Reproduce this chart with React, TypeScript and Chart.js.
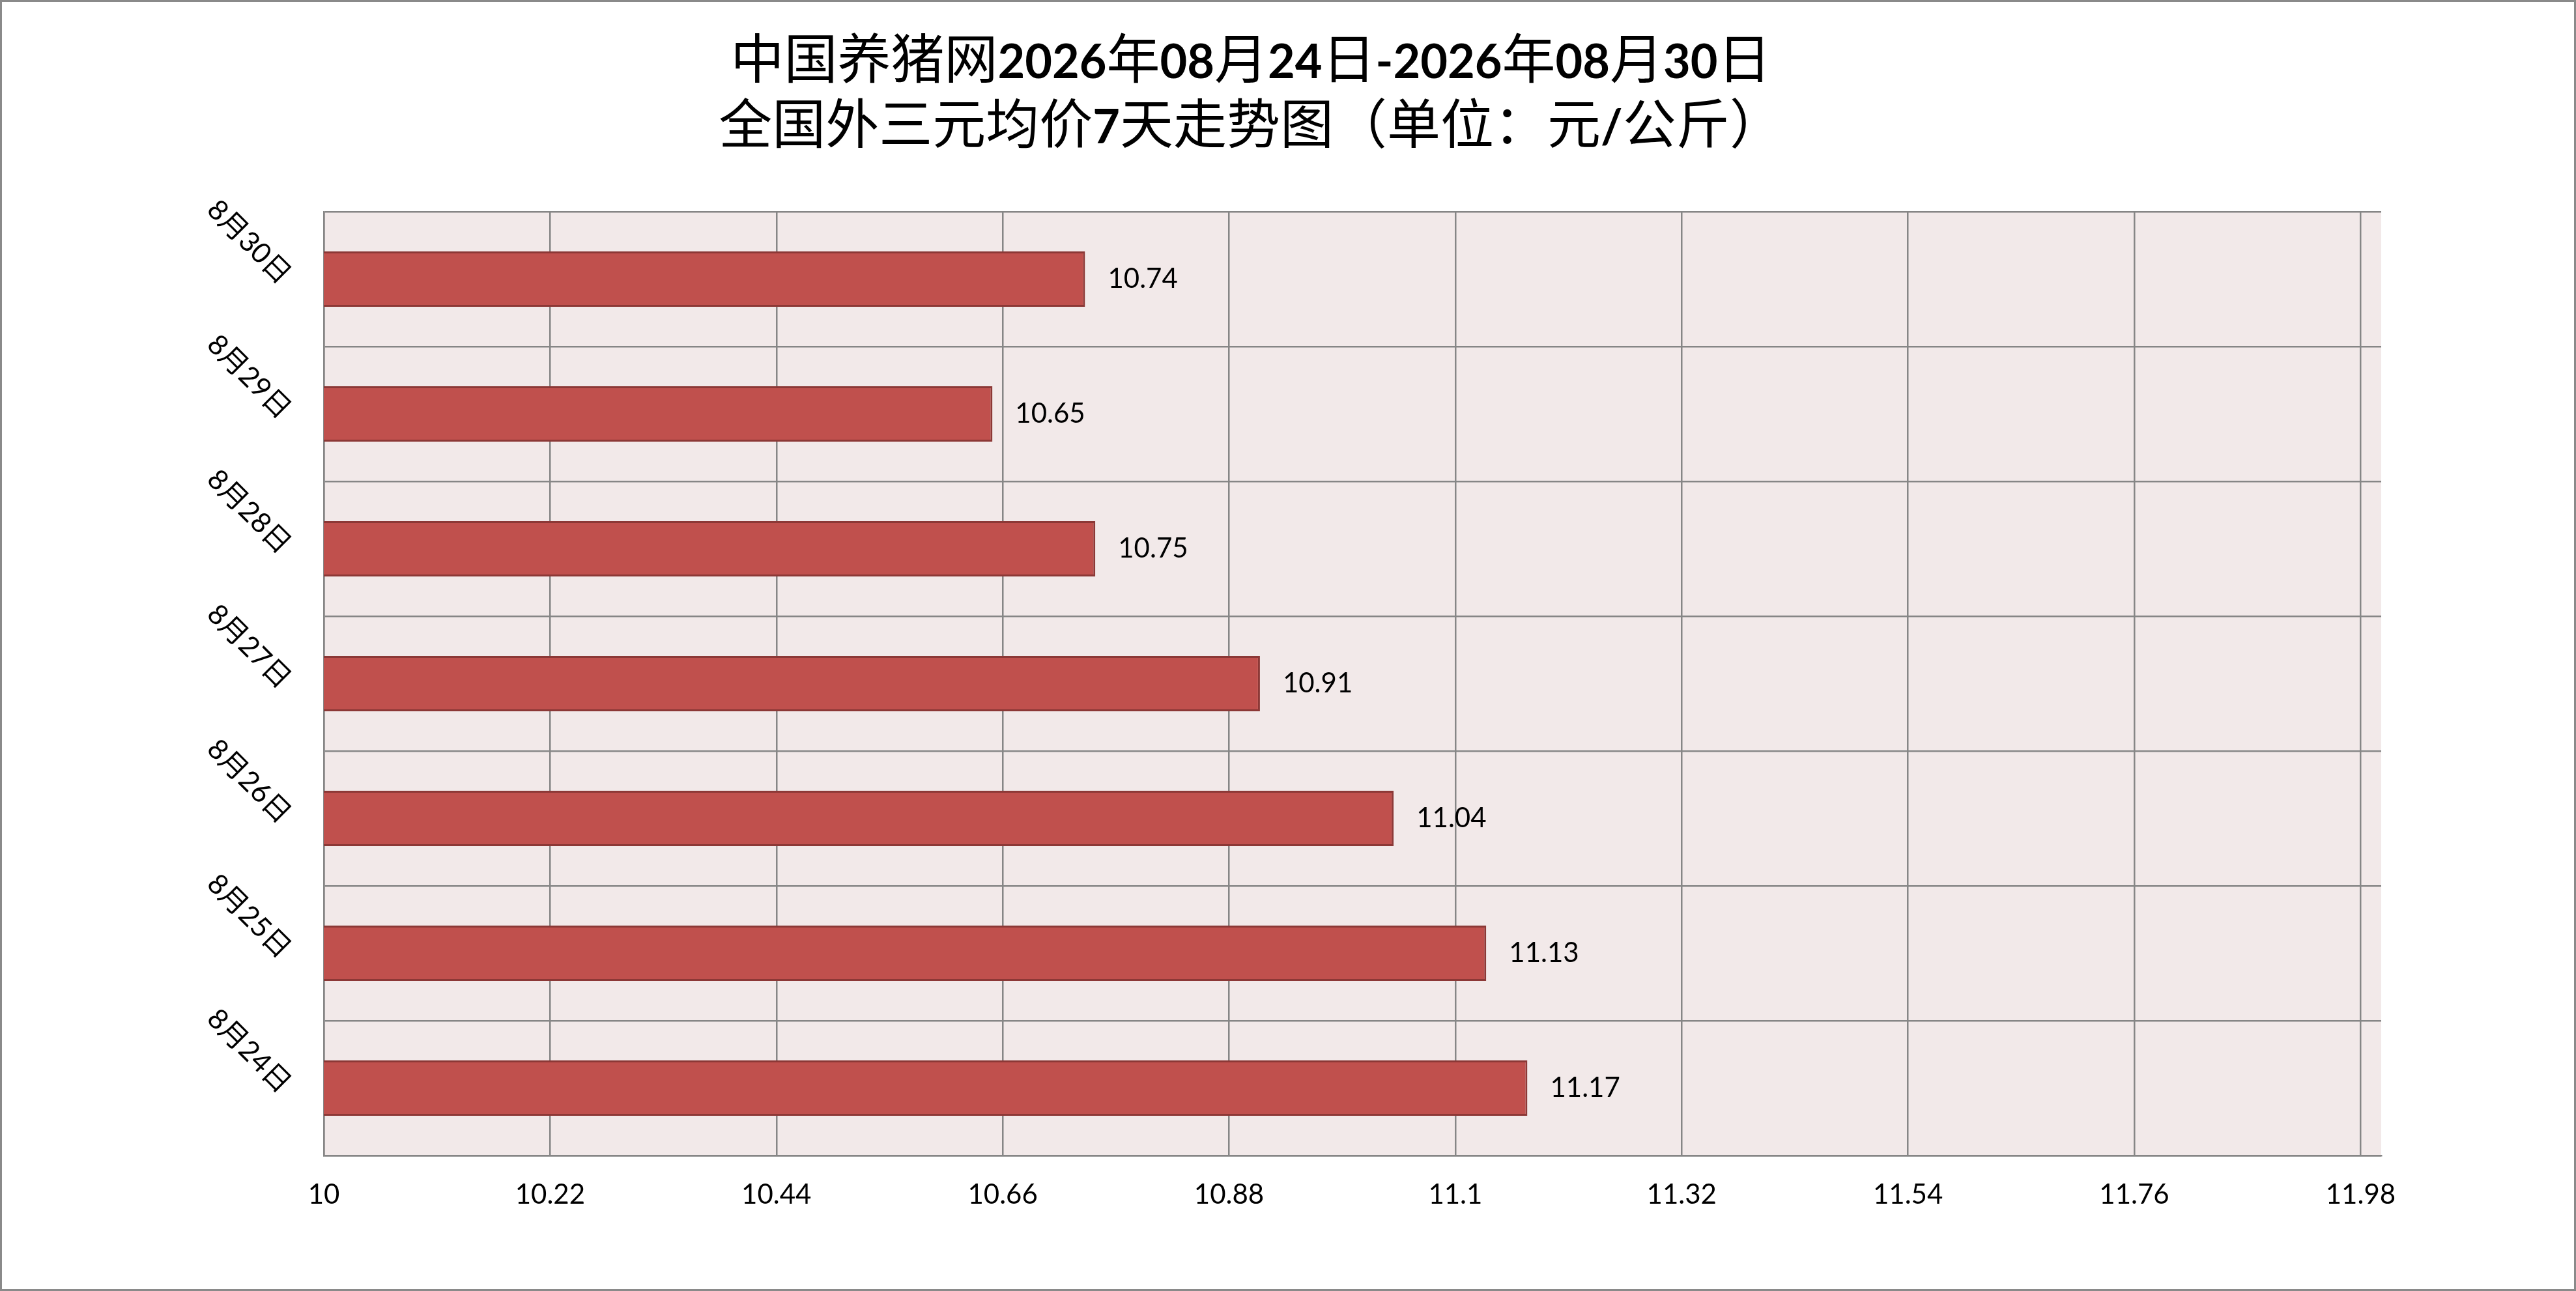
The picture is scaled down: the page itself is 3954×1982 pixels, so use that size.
import { useEffect, useRef } from 'react'
import { Chart, registerables, Plugin } from 'chart.js'

Chart.register(...registerables)

// ─── data ────────────────────────────────────────────────────────────────────
const DATES = ['8月24日', '8月25日', '8月26日', '8月27日', '8月28日', '8月29日', '8月30日']
const PRICES = [11.17, 11.13, 11.04, 10.91, 10.75, 10.65, 10.74]
const X_TICKS = [10, 10.22, 10.44, 10.66, 10.88, 11.1, 11.32, 11.54, 11.76, 11.98]
const TITLE_LINES = ['中国养猪网2026年08月24日-2026年08月30日', '全国外三元均价7天走势图（单位：元/公斤）']

const W = 3954
const H = 1982
const GRID = '#868686'
const PLOT_BG = '#F2E9E9'
const TEXT_FONT = '"Lato", "Noto Sans CJK SC", sans-serif'
const CJK = /[\u3000-\u9fff\uff00-\uffef]/

// white page, pink plot area, grey frame round the whole picture
const backdrop: Plugin<'bar'> = {
  id: 'backdrop',
  beforeDraw(chart) {
    const { ctx, chartArea: a } = chart
    ctx.save()
    ctx.fillStyle = '#fff'
    ctx.fillRect(0, 0, W, H)
    ctx.fillStyle = PLOT_BG
    ctx.fillRect(a.left, a.top, a.right - a.left, a.bottom - a.top)
    ctx.strokeStyle = '#8a8a8a'
    ctx.lineWidth = 3
    ctx.strokeRect(1.5, 1.5, W - 3, H - 3)
    ctx.restore()
  },
}

// title: Chinese in regular weight, digits/latin in bold (as the Excel original)
const mixedTitle: Plugin<'bar'> = {
  id: 'mixedTitle',
  afterDraw(chart) {
    const ctx = chart.ctx
    const fontFor = (cjk: boolean) => (cjk ? 'normal 82px "Noto Sans CJK SC"' : 'bold 72px "Lato", "Liberation Sans"')
    const baselines = [120, 220]
    ctx.save()
    ctx.fillStyle = '#000'
    ctx.textBaseline = 'alphabetic'
    ctx.textAlign = 'left'
    TITLE_LINES.forEach((line, li) => {
      const runs: { t: string; cjk: boolean }[] = []
      for (const ch of line) {
        const c = CJK.test(ch)
        const last = runs[runs.length - 1]
        if (last && last.cjk === c) last.t += ch
        else runs.push({ t: ch, cjk: c })
      }
      let total = 0
      const widths = runs.map(r => {
        ctx.font = fontFor(r.cjk)
        const w = ctx.measureText(r.t).width
        total += w
        return w
      })
      let x = 1920 - total / 2
      runs.forEach((r, i) => {
        ctx.font = fontFor(r.cjk)
        ctx.fillText(r.t, x, baselines[li])
        x += widths[i]
      })
    })
    ctx.restore()
  },
}

// value labels right of each bar
const valueLabels: Plugin<'bar'> = {
  id: 'valueLabels',
  afterDatasetsDraw(chart) {
    const ctx = chart.ctx
    const meta = chart.getDatasetMeta(0)
    ctx.save()
    ctx.fillStyle = '#000'
    ctx.font = `42px ${TEXT_FONT}`
    ctx.textAlign = 'left'
    ctx.textBaseline = 'middle'
    meta.data.forEach((bar: any, i) => {
      ctx.fillText(PRICES[i].toFixed(2), bar.x + 35, bar.y)
    })
    ctx.restore()
  },
}

export default function App() {
  const ref = useRef<HTMLCanvasElement>(null)
  const chart = useRef<Chart | null>(null)

  useEffect(() => {
    if (!ref.current) return
    chart.current?.destroy()
    chart.current = new Chart(ref.current, {
      type: 'bar',
      data: {
        labels: DATES,
        datasets: [{
          data: PRICES,
          backgroundColor: '#C0504D',
          borderColor: '#8C3836',
          borderWidth: 3,
          barPercentage: 0.41,
          categoryPercentage: 1,
        }],
      },
      options: {
        indexAxis: 'y',
        responsive: false,
        animation: false,
        devicePixelRatio: 1,
        layout: { padding: { top: 325, right: 299, left: 0, bottom: 0 } },
        plugins: { legend: { display: false }, tooltip: { enabled: false }, title: { display: false } },
        scales: {
          x: {
            type: 'linear',
            min: 10, max: 12,
            afterBuildTicks: (s: any) => { s.ticks = X_TICKS.map(v => ({ value: v })) },
            afterFit: (s: any) => { s.height = 208 },
            ticks: { color: '#000', font: { family: TEXT_FONT, size: 42 }, padding: 35, maxRotation: 0, callback: (v: any) => String(v) },
            grid: { color: GRID, lineWidth: 2.5, drawTicks: false },
            border: { color: GRID, width: 2.5 },
          },
          y: {
            type: 'category',
            reverse: true,
            offset: true,
            afterFit: (s: any) => { s.width = 497 },
            ticks: { color: '#000', font: { family: TEXT_FONT, size: 43 }, padding: 58, minRotation: -45, maxRotation: -45 },
            grid: { color: GRID, lineWidth: 2.5, drawTicks: false, offset: true },
            border: { color: GRID, width: 2.5 },
          },
        },
      },
      plugins: [backdrop, valueLabels, mixedTitle],
    } as any)
    return () => chart.current?.destroy()
  }, [])

  return (
    <div style={{ position: 'absolute', left: 0, top: 0, width: W, height: H }}>
      <canvas ref={ref} width={W} height={H} style={{ display: 'block' }} />
    </div>
  )
}
